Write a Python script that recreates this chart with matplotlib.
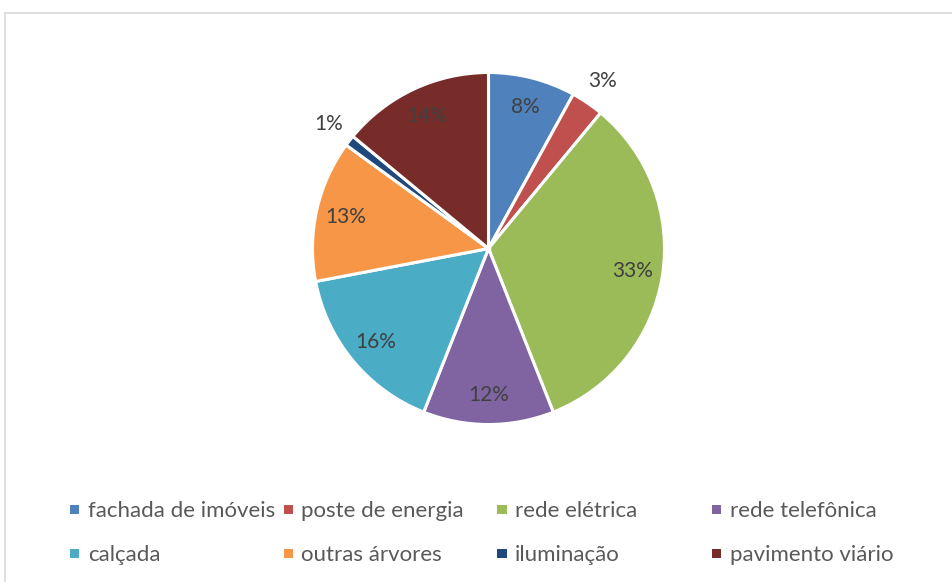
import numpy as np
import matplotlib
matplotlib.use("Agg")
import matplotlib.pyplot as plt
from matplotlib.lines import Line2D
from matplotlib.patches import Rectangle

# Share of damage by type (percent)
categories = ["fachada de imóveis", "poste de energia", "rede elétrica", "rede telefônica",
              "calçada", "outras árvores", "iluminação", "pavimento viário"]
values = [8, 3, 33, 12, 16, 13, 1, 14]
colors = ["#4F81BD", "#C0504D", "#9BBB59", "#8064A2",
          "#4BACC6", "#F79646", "#1F497D", "#772C2A"]
outside = ["poste de energia", "iluminação"]

W, H = 953, 582
plt.rcParams["font.family"] = ["Lato", "DejaVu Sans"]
fig = plt.figure(figsize=(W / 100, H / 100), dpi=100)
fig.patch.set_facecolor("white")

# chart frame
fig.add_artist(Line2D([4.5 / W, 4.5 / W], [0, 1 - 12.5 / H], transform=fig.transFigure,
                      color="#D9D9D9", lw=1.2))
fig.add_artist(Line2D([4.5 / W, 1], [1 - 12.5 / H, 1 - 12.5 / H], transform=fig.transFigure,
                      color="#D9D9D9", lw=1.2))

# pie axes, square in pixels
cx, cy, r = 488.5, 248.5, 176
ax = fig.add_axes([(cx - r) / W, (H - cy - r) / H, 2 * r / W, 2 * r / H])
wedges, _ = ax.pie(values, colors=colors, startangle=90, counterclock=False,
                   wedgeprops=dict(edgecolor="white", linewidth=2.2))
ax.set_xlim(-1, 1)
ax.set_ylim(-1, 1)
ax.set_aspect("equal")
ax.axis("off")

total = sum(values)
cum = 0
for cat, v in zip(categories, values):
    mid = 90 - (cum + v / 2) / total * 360
    cum += v
    dist = 1.15 if cat in outside else 0.83
    x, y = dist * np.cos(np.radians(mid)), dist * np.sin(np.radians(mid))
    ax.text(x, y, f"{v / total * 100:.0f}%", ha="center", va="center",
            fontsize=15, color="#404040")

# legend in four columns, two rows
col_x = [75, 288, 502, 717]
row_y = [509, 553]
for i, (cat, c) in enumerate(zip(categories, colors)):
    px, py = col_x[i % 4], row_y[i // 4]
    fig.add_artist(Rectangle(((px - 4.5) / W, (H - py - 4.5) / H), 9 / W, 9 / H,
                             transform=fig.transFigure, facecolor=c, edgecolor="none"))
    fig.text((px + 13) / W, (H - py) / H, cat, ha="left", va="center_baseline",
             fontsize=16, color="#595959")

fig.savefig("out.png", dpi=100, facecolor="white")
